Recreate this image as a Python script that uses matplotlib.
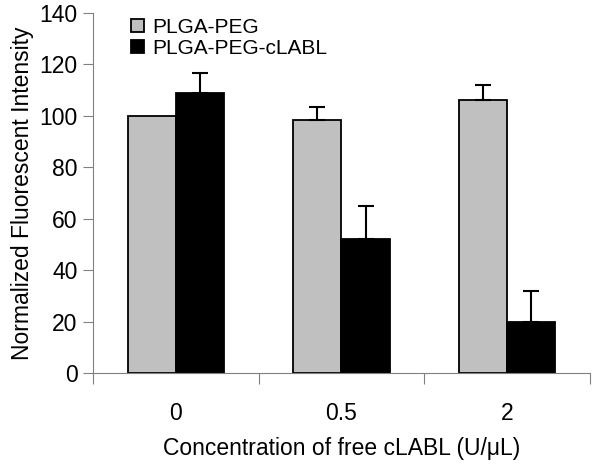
import numpy as np
import matplotlib
matplotlib.use('Agg')
import matplotlib.pyplot as plt

# data
categories = ['0', '0.5', '2']
plga_peg = [100, 98.5, 106]
plga_peg_err = [0, 5, 6]
plga_peg_clabl = [109, 52, 20]
plga_peg_clabl_err = [7.5, 13, 11.7]

plt.rcParams['font.family'] = ['Liberation Sans', 'DejaVu Sans']

fig = plt.figure(figsize=(6.02, 4.66), dpi=100)
ax = fig.add_axes([0.1545, 0.1996, 0.8255, 0.7724])

x = np.arange(len(categories))
w = 0.29
ekw = dict(fmt='none', ecolor='black', elinewidth=1.5, capsize=6, capthick=1.5)

ax.bar(x - w / 2, plga_peg, w, color='#c0c0c0', edgecolor='black',
       linewidth=1.3, label='PLGA-PEG')
ax.bar(x + w / 2, plga_peg_clabl, w, color='black', edgecolor='black',
       linewidth=1.3, label='PLGA-PEG-cLABL')

# upper error bars only, skip zero ones
for xs, vals, errs in [(x - w / 2, plga_peg, plga_peg_err),
                       (x + w / 2, plga_peg_clabl, plga_peg_clabl_err)]:
    for xi, v, e in zip(xs, vals, errs):
        if e > 0:
            ax.errorbar(xi, v, yerr=[[0], [e]], **ekw)

ax.set_xlim(-0.5, 2.5)
ax.set_ylim(0, 140)
ax.set_yticks(np.arange(0, 141, 20))

# ticks at category boundaries, labels at centers
ax.set_xticks([-0.5, 0.5, 1.5, 2.5])
ax.set_xticklabels([])
ax.set_xticks(x, minor=True)
ax.set_xticklabels(categories, minor=True)
ax.tick_params(axis='x', which='minor', length=0, pad=21, labelsize=16.5)
ax.tick_params(axis='x', which='major', length=8, color='#808080')
ax.tick_params(axis='y', length=7, color='#808080', labelsize=16.5, pad=4)

for s in ['top', 'right']:
    ax.spines[s].set_visible(False)
for s in ['left', 'bottom']:
    ax.spines[s].set_color('#808080')

ax.set_ylabel('Normalized Fluorescent Intensity', fontsize=16.5, labelpad=4)
ax.set_xlabel('Concentration of free cLABL (U/\u03bcL)', fontsize=16.5)
ax.xaxis.set_label_coords(0.5, -0.178)

ax.legend(loc='upper left', bbox_to_anchor=(0.06, 1.01), frameon=False,
          fontsize=15, handlelength=0.6, handleheight=0.6,
          handletextpad=0.4, labelspacing=0.1, borderaxespad=0)

fig.savefig('out.png', dpi=100)
